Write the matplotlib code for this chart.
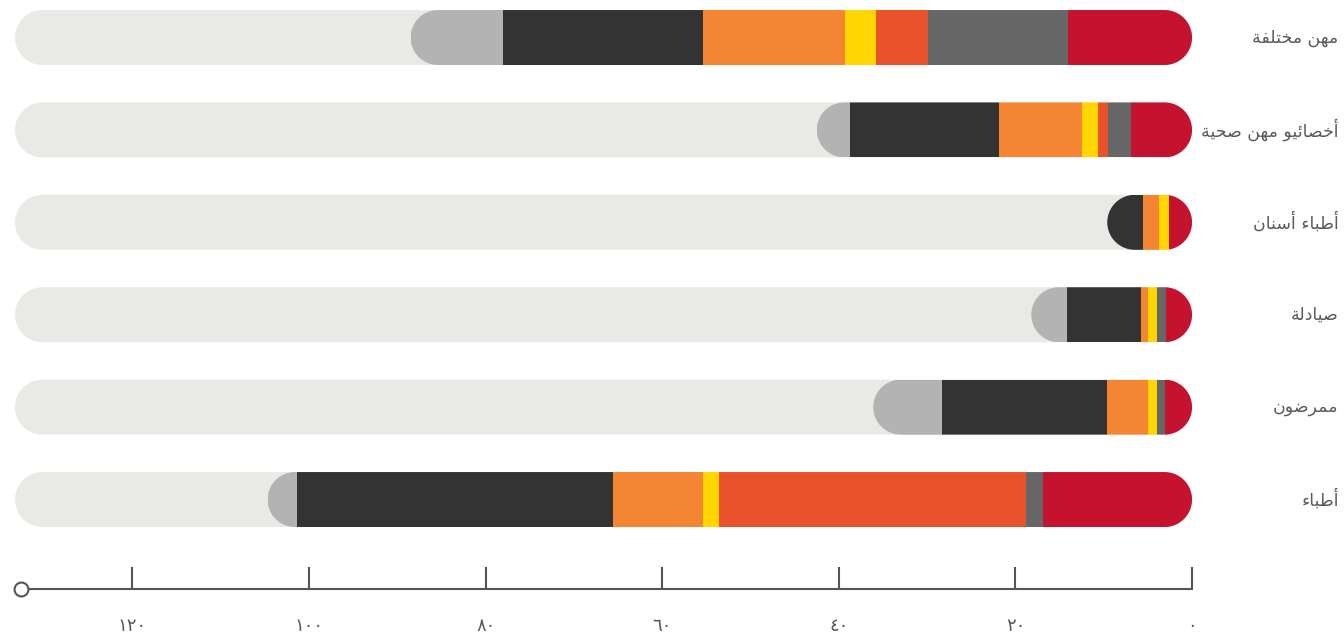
import matplotlib
matplotlib.use('Agg')
from matplotlib import pyplot as plt
from matplotlib.patches import PathPatch
from matplotlib.path import Path
import numpy as np

# rows, top to bottom
categories = ['مهن مختلفة', 'أخصائيو مهن صحية', 'أطباء أسنان', 'صيادلة', 'ممرضون', 'أطباء']

# stacked segments, from 0 (right) going left
red = [14.0, 6.9, 2.6, 2.9, 3.1, 16.9]
dark_gray = [15.9, 2.6, 0.0, 1.1, 0.9, 1.9]
orange_red = [5.9, 1.1, 0.0, 0.0, 0.0, 34.8]
yellow = [3.5, 1.9, 1.1, 1.0, 1.0, 1.8]
orange = [16.1, 9.4, 1.8, 0.8, 4.6, 10.2]
dark = [22.6, 16.8, 4.1, 8.4, 18.7, 35.8]
light_gray = [10.5, 3.8, 0.0, 4.0, 7.8, 3.3]

track_max = 133.3
axis_end = 132.6
tick_values = [0, 20, 40, 60, 80, 100, 120]
tick_labels = ['٠', '٢٠', '٤٠', '٦٠', '٨٠', '١٠٠', '١٢٠']

series = [red, dark_gray, orange_red, yellow, orange, dark, light_gray]
colors = ['#c4122f', '#666666', '#e9522a', '#ffd600', '#f38533', '#333333', '#b3b3b3']
track_color = '#e9eae5'
text_color = '#5a5a5a'

# matplotlib 3.10 has no arabic shaping, so do it by hand
FORMS = {
    'ء': (0xFE80, 'U'), 'آ': (0xFE81, 'R'), 'أ': (0xFE83, 'R'), 'ؤ': (0xFE85, 'R'),
    'إ': (0xFE87, 'R'), 'ئ': (0xFE89, 'D'), 'ا': (0xFE8D, 'R'), 'ب': (0xFE8F, 'D'),
    'ة': (0xFE93, 'R'), 'ت': (0xFE95, 'D'), 'ح': (0xFEA1, 'D'), 'خ': (0xFEA5, 'D'),
    'د': (0xFEA9, 'R'), 'ر': (0xFEAD, 'R'), 'س': (0xFEB1, 'D'), 'ص': (0xFEB9, 'D'),
    'ض': (0xFEBD, 'D'), 'ط': (0xFEC1, 'D'), 'ف': (0xFED1, 'D'), 'ل': (0xFEDD, 'D'),
    'م': (0xFEE1, 'D'), 'ن': (0xFEE5, 'D'), 'ه': (0xFEE9, 'D'), 'و': (0xFEED, 'R'),
    'ي': (0xFEF1, 'D'),
}


def shape(text: str) -> str:
    out = []
    for i, ch in enumerate(text):
        if ch not in FORMS:
            out.append(ch)
            continue
        base, jt = FORMS[ch]
        if jt == 'U':
            out.append(chr(base))
            continue
        prev = text[i - 1] if i > 0 else None
        nxt = text[i + 1] if i + 1 < len(text) else None
        jp = prev in FORMS and FORMS[prev][1] == 'D'
        jn = jt == 'D' and nxt in FORMS and FORMS[nxt][1] in 'DR'
        off = 3 if (jp and jn) else 1 if jp else 2 if jn else 0
        out.append(chr(base + off))
    return ''.join(reversed(out))


plt.rcParams['font.family'] = ['DejaVu Sans']

fig = plt.figure(figsize=(13.44, 6.4), dpi=100)
ax = fig.add_axes([0, 0, 1, 1])
ax.set_xlim(135.0, -17.21)
ax.set_ylim(6.52, -0.406)

bar_h = 0.595
y = np.arange(len(categories))

# x/y pixel ratio so that the end caps come out as half circles
fig.canvas.draw()
p0 = ax.transData.transform((0, 0))
p1 = ax.transData.transform((1, 1))
aspect = abs(p1[0] - p0[0]) / abs(p1[1] - p0[1])
ry = bar_h / 2
rx = ry / aspect


def capsule(yc, length, **kw):
    t = np.linspace(-np.pi / 2, np.pi / 2, 60)
    # cap at 0 (right on screen) and cap at length (left on screen)
    right = np.column_stack([rx - rx * np.cos(t), yc + ry * np.sin(t)])
    left = np.column_stack([length - rx + rx * np.cos(t), yc - ry * np.sin(t)])
    verts = np.vstack([right, left, right[:1]])
    codes = [Path.MOVETO] + [Path.LINETO] * (len(verts) - 2) + [Path.CLOSEPOLY]
    return PathPatch(Path(verts, codes), transform=ax.transData, **kw)


totals = np.sum(series, axis=0)
for i, yc in enumerate(y):
    ax.add_patch(capsule(yc, track_max, facecolor=track_color, edgecolor='none'))

left = np.zeros(len(categories))
for vals, c in zip(series, colors):
    bars = ax.barh(y, vals, left=left, height=bar_h, color=c, linewidth=0)
    for i, b in enumerate(bars):
        b.set_clip_path(capsule(y[i], totals[i], facecolor='none', edgecolor='none'))
    left += np.array(vals)

for i, name in enumerate(categories):
    ax.text(0.996, y[i], shape(name), transform=ax.get_yaxis_transform(),
            ha='right', va='center', fontsize=12.5, color=text_color)

# bottom axis
axis_y = 5.97
for s in ['top', 'left', 'right']:
    ax.spines[s].set_visible(False)
ax.spines['bottom'].set_position(('data', axis_y))
ax.spines['bottom'].set_bounds(0, axis_end)
ax.spines['bottom'].set_color('#555555')
ax.spines['bottom'].set_linewidth(1.5)
ax.set_yticks([])
ax.set_xticks(tick_values)
ax.set_xticklabels(tick_labels)
ax.tick_params(axis='x', direction='in', length=16, width=1.5, color='#555555',
               pad=20, labelsize=13, labelcolor=text_color)
ax.plot([axis_end], [axis_y], marker='o', ms=10, mfc='white', mec='#555555',
        mew=1.5, clip_on=False, zorder=5)

fig.savefig('out.png', dpi=100)
